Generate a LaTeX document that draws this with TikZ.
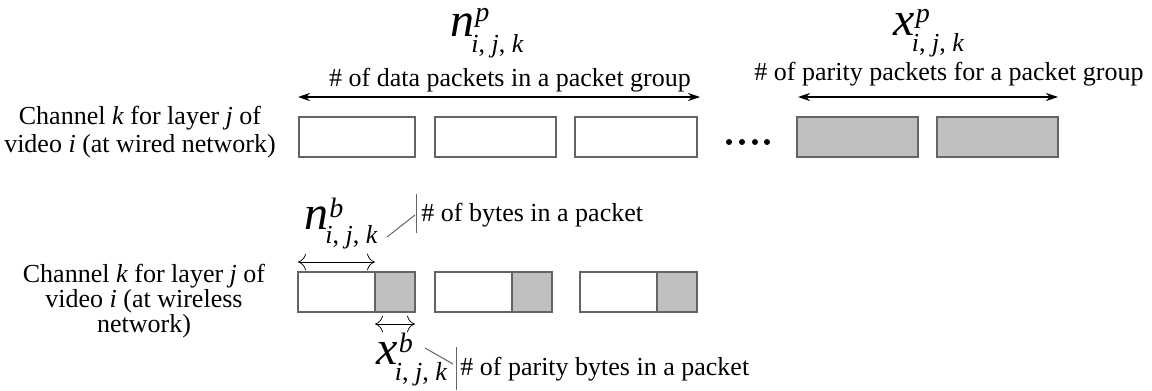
\documentclass[tikz,border=0pt]{standalone}
\usepackage{fontspec}
\setmainfont{Liberation Serif}
\usetikzlibrary{arrows.meta}
\definecolor{boxline}{RGB}{100,100,100}
\definecolor{parity}{RGB}{192,192,192}
\tikzset{
  pkt/.style={draw=boxline, line width=0.6pt, fill=white, inner sep=0pt, outer sep=0pt, anchor=north west, minimum height=20pt},
  par/.style={pkt, fill=parity},
  lbl/.style={font=\fontsize{13}{12}\selectfont, inner sep=0pt},
  big/.style={font=\fontsize{24}{24}\selectfont, inner sep=0pt},
  dim/.style={line width=0.6pt, {Stealth[length=6pt,width=4pt]}-{Stealth[length=6pt,width=4pt]}},
  thindim/.style={line width=0.35pt, {To[length=4pt]}-{To[length=4pt]}},
  leader/.style={draw=boxline, line width=0.5pt},
  dot/.style={circle, fill=black, inner sep=0pt, minimum size=3pt}
}
% #1 letter, #2 superscript, #3 raise, #4 lower, #5 back kern of the subscript
\newcommand{\symb}[5]{\textit{#1}\rlap{\kern0.5pt\raisebox{#3}{\fontsize{14}{14}\selectfont\textit{#2}}}\kern-#5\raisebox{-#4}{\fontsize{13}{13}\selectfont\textit{i}, \textit{j}, \textit{k}}}
\begin{document}
\begin{tikzpicture}[x=0.5pt,y=-0.5pt]
\useasboundingbox (0,0) rectangle (1152,391);
% left labels
\node[lbl, align=center, anchor=base, font=\fontsize{13}{14}\selectfont] (wired) at (140,152) {Channel \textit{k} for layer \textit{j} of\\video \textit{i} (at wired network)};
\node[lbl, align=center, anchor=base, font=\fontsize{13}{12.3}\selectfont] (wless) at (144,332) {Channel \textit{k} for layer \textit{j} of\\video \textit{i} (at wireless\\network)};
% top row boxes
\node[pkt, minimum width=58pt] (d1) at (299,117) {};
\node[pkt, minimum width=60.5pt] (d2) at (435,117) {};
\node[pkt, minimum width=61pt] (d3) at (575,117) {};
\node[par, minimum width=60.5pt] (p1) at (797,117) {};
\node[par, minimum width=60.5pt] (p2) at (937,117) {};
\node[dot] (dt1) at (729,142) {};
\node[dot] (dt2) at (742,142) {};
\node[dot] (dt3) at (755,142) {};
\node[dot] (dt4) at (767,142) {};
% top annotations
\node[big, anchor=base] (np) at (487,36) {\symb{n}{p}{7.5pt}{8pt}{1.5pt}};
\node[lbl, anchor=base] (npt) at (510,86) {\# of data packets in a packet group};
\node[big, anchor=base] (xp) at (929,35) {\symb{x}{p}{6.5pt}{8pt}{1.5pt}};
\node[lbl, anchor=base] (xpt) at (949,80) {\# of parity packets for a packet group};
\coordinate (a1) at (298,97);
\coordinate (a2) at (700,97);
\coordinate (a3) at (798,97);
\coordinate (a4) at (1058,97);
\draw[dim] (a1) -- (a2);
\draw[dim] (a3) -- (a4);
% bottom row boxes
\node[pkt, minimum width=38.5pt] (w1) at (298,272) {};
\node[par, minimum width=20pt] (g1) at (375,272) {};
\node[pkt, minimum width=38.5pt] (w2) at (435,272) {};
\node[par, minimum width=20pt] (g2) at (512,272) {};
\node[pkt, minimum width=38.5pt] (w3) at (580,272) {};
\node[par, minimum width=20pt] (g3) at (657,272) {};
% byte dimension arrows
\coordinate (b1) at (298,262);
\coordinate (b2) at (375,262);
\coordinate (c1) at (375,324);
\coordinate (c2) at (415,324);
\draw[thindim] (b1) -- (b2);
\draw[thindim] (c1) -- (c2);
% n^b annotation
\node[big, anchor=base] (nb) at (341,229) {\symb{n}{b}{6pt}{7pt}{1.5pt}};
\coordinate (nl1) at (387,237);
\coordinate (nl2) at (415,215);
\coordinate (nbar1) at (416,194);
\coordinate (nbar2) at (416,233);
\draw[leader] (nl1) -- (nl2);
\draw[leader] (nbar1) -- (nbar2);
\node[lbl, anchor=base west] (nbt) at (421,221) {\# of bytes in a packet};
% x^b annotation
\node[big, anchor=base] (xb) at (412,364) {\symb{x}{b}{6pt}{8pt}{1.5pt}};
\coordinate (xl1) at (425,348);
\coordinate (xl2) at (453,364);
\coordinate (xbar1) at (456,347);
\coordinate (xbar2) at (456,390);
\draw[leader] (xl1) -- (xl2);
\draw[leader] (xbar1) -- (xbar2);
\node[lbl, anchor=base west] (xbt) at (460,375) {\# of parity bytes in a packet};
\end{tikzpicture}
\end{document}
